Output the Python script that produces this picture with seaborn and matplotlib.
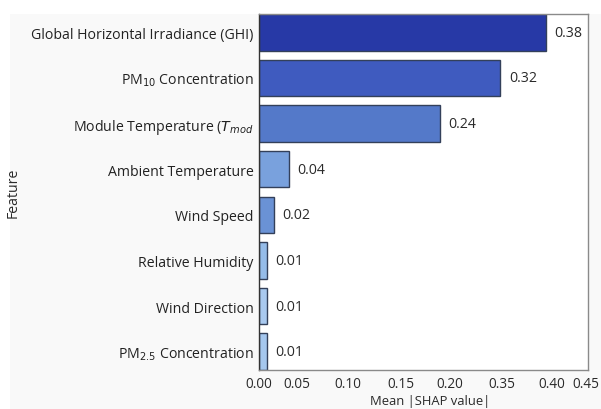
import matplotlib
matplotlib.use("Agg")
import matplotlib.pyplot as plt
import seaborn as sns
import pandas as pd
from matplotlib.patches import Rectangle

# Feature importance (mean |SHAP|), ordered from most to least important
features = [
    "Global Horizontal Irradiance (GHI)",
    "PM$_{10}$ Concentration",
    "Module Temperature ($T_{mod}$",
    "Ambient Temperature",
    "Wind Speed",
    "Relative Humidity",
    "Wind Direction",
    "PM$_{2.5}$ Concentration",
]
shap_values = [0.38, 0.32, 0.24, 0.04, 0.02, 0.01, 0.01, 0.01]
value_labels = ["0.38", "0.32", "0.24", "0.04", "0.02", "0.01", "0.01", "0.01"]
bar_colors = ["#2739a6", "#3f5bbf", "#5479c9", "#79a1dd",
              "#6a92d5", "#95bce9", "#a9c9ef", "#a5c7ee"]

# x-axis tick positions and their printed labels
x_tick_pos = [0.0, 0.05, 0.118, 0.188, 0.253, 0.322, 0.388, 0.433]
x_tick_labels = ["0.00", "0.05", "0.10", "0.15", "0.20", "0.35", "0.40", "0.45"]

df = pd.DataFrame({"Feature": features, "Mean |SHAP value|": shap_values})

sns.set_style("white")
plt.rcParams["font.family"] = ["Open Sans", "DejaVu Sans"]
plt.rcParams["mathtext.fontset"] = "dejavusans"

FS = 10.2
AX_TOP, AX_BOTTOM = 15, 371

fig = plt.figure(figsize=(6.01, 4.10), dpi=100, facecolor="white")
# light panel behind the labels
fig.patches.append(Rectangle((10 / 601, 0), 1 - 10 / 601, 1 - 15 / 410,
                             transform=fig.transFigure, facecolor="#f9f9f9",
                             edgecolor="none", zorder=-10))
ax = fig.add_axes([259 / 601, 1 - AX_BOTTOM / 410, (588 - 259) / 601,
                   (AX_BOTTOM - AX_TOP) / 410])
ax.set_facecolor("white")

sns.barplot(data=df, x="Mean |SHAP value|", y="Feature", hue="Feature",
            palette=bar_colors, saturation=1, legend=False, orient="h", width=0.8,
            edgecolor="#33405a", linewidth=1.0, ax=ax)

for i, (v, lab) in enumerate(zip(shap_values, value_labels)):
    ax.text(v + 0.011, i, lab, va="center", ha="left", fontsize=FS, color="#2a2a2a")

ax.set_xlim(0, 0.436)
ax.set_ylim(7.4, -0.4)
ax.set_xticks(x_tick_pos)
ax.set_xticklabels(x_tick_labels, fontsize=9.8, color="#2a2a2a")
ax.tick_params(axis="x", direction="in", length=3, color="#888888", pad=4)
ax.tick_params(axis="y", length=0, labelsize=FS, labelcolor="#222222", pad=4)

xl = ax.set_xlabel("Mean |SHAP value|", fontsize=9.4, color="#2a2a2a")
xl.set_va("bottom")
ax.xaxis.set_label_coords(0.52, -(408 - AX_BOTTOM) / (AX_BOTTOM - AX_TOP))
ax.set_ylabel("Feature", fontsize=FS, color="#2a2a2a")
ax.yaxis.set_label_coords(-0.725, 0.5)

for side in ["top", "right", "bottom"]:
    ax.spines[side].set_color("#8a8a8a")
    ax.spines[side].set_linewidth(1.0)
ax.spines["left"].set_color("#333333")
ax.spines["left"].set_linewidth(1.0)

fig.savefig("out.png", dpi=100, facecolor=fig.get_facecolor())
